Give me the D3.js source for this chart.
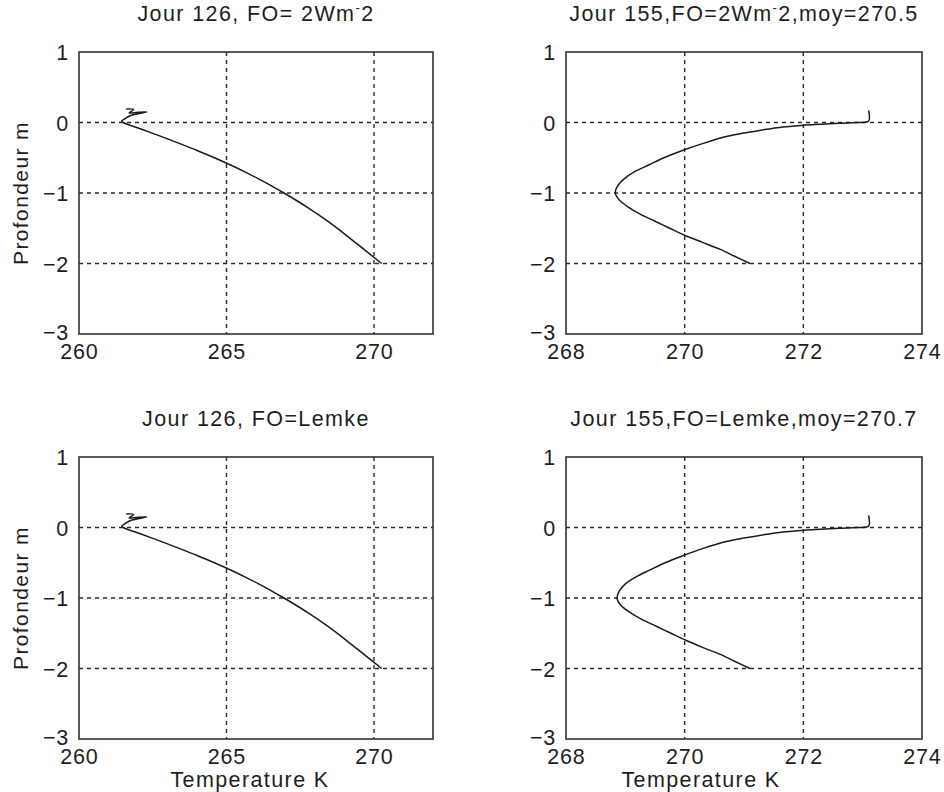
<!DOCTYPE html>
<html>
<head>
<meta charset="utf-8">
<script src="https://cdn.jsdelivr.net/npm/d3@7"></script>
<style>
  html, body { margin: 0; padding: 0; background: #fff; }
  svg { display: block; }
  text { font-family: "Liberation Sans", Arial, sans-serif; fill: #1e1e1e; }
</style>
</head>
<body>
<svg id="chart" width="944" height="792"></svg>
<script>
// ---------- data ----------
const titles = [
  ["Jour 126, FO= 2Wm", "-", "2", ""],
  ["Jour 155,FO=2Wm", "-", "2", ",moy=270.5"],
  ["Jour 126, FO=Lemke", "", "", ""],
  ["Jour 155,FO=Lemke,moy=270.7", "", "", ""]
];
const xTicksLeft = [260, 265, 270];
const xTicksRight = [268, 270, 272, 274];
const yTicks = [1, 0, -1, -2, -3];
const xDomainLeft = [260, 272];
const xDomainRight = [268, 274];
const yDomain = [-3, 1];

// Jour 126 profiles (depth m, temperature K)
const depthLeft = [0.19, 0.185, 0.135, 0.145, 0.15, 0.10, 0.05, 0.02, 0.0,
  -0.1, -0.2, -0.3, -0.4, -0.5, -0.6, -0.7, -0.8, -0.9, -1.0,
  -1.2, -1.4, -1.6, -1.8, -2.0];
const tempLeftTop = [261.6, 261.85, 261.7, 262.0, 262.3, 261.75, 261.55, 261.45, 261.5,
  262.15, 262.8, 263.42, 264.02, 264.59, 265.12, 265.62, 266.09, 266.53, 266.95,
  267.73, 268.43, 269.06, 269.66, 270.26];
const tempLeftBottom = [261.6, 261.85, 261.7, 262.0, 262.3, 261.75, 261.55, 261.45, 261.5,
  262.15, 262.8, 263.42, 264.02, 264.59, 265.12, 265.62, 266.09, 266.53, 266.95,
  267.73, 268.43, 269.06, 269.66, 270.26];

// Jour 155 profiles
const depthRight = [0.17, 0.02, 0.0, -0.01, -0.03, -0.05, -0.07, -0.1, -0.15, -0.2, -0.3, -0.4,
  -0.5, -0.6, -0.7, -0.8, -0.9, -1.0, -1.1, -1.2, -1.3, -1.4,
  -1.5, -1.6, -1.7, -1.8, -1.9, -2.0];
const tempRightTop = [273.1, 273.1, 272.9, 272.6, 272.2, 271.85, 271.6, 271.35, 271.0, 270.7, 270.3, 269.95,
  269.65, 269.4, 269.15, 268.98, 268.87, 268.83, 268.9, 269.05, 269.25, 269.5,
  269.75, 270.0, 270.3, 270.6, 270.85, 271.1];
const tempRightBottom = [273.1, 273.1, 272.9, 272.6, 272.2, 271.85, 271.6, 271.35, 271.0, 270.7, 270.3, 269.97,
  269.67, 269.42, 269.18, 269.0, 268.9, 268.86, 268.92, 269.07, 269.27, 269.52,
  269.77, 270.02, 270.3, 270.6, 270.85, 271.1];

const xLabel = "Temperature K";
const yLabel = "Profondeur m";

// ---------- layout ----------
const svg = d3.select("#chart");
const panels = [
  { left: 79, right: 433, top: 52, bottom: 334, xd: xDomainLeft, xt: xTicksLeft, depth: depthLeft, temp: tempLeftTop, title: titles[0], yl: true, xl: false, xlOff: -6 },
  { left: 566, right: 922, top: 52, bottom: 334, xd: xDomainRight, xt: xTicksRight, depth: depthRight, temp: tempRightTop, title: titles[1], yl: false, xl: false, xlOff: -43 },
  { left: 79, right: 433, top: 457, bottom: 739, xd: xDomainLeft, xt: xTicksLeft, depth: depthLeft, temp: tempLeftBottom, title: titles[2], yl: true, xl: true, xlOff: -6 },
  { left: 566, right: 922, top: 457, bottom: 739, xd: xDomainRight, xt: xTicksRight, depth: depthRight, temp: tempRightBottom, title: titles[3], yl: false, xl: true, xlOff: -43 }
];

const ink = "#1e1e1e";

panels.forEach(p => {
  const x = d3.scaleLinear().domain(p.xd).range([p.left, p.right]);
  const y = d3.scaleLinear().domain(yDomain).range([p.bottom, p.top]);
  const g = svg.append("g");

  // grid (dashed)
  g.append("g").selectAll("line")
    .data(p.xt.filter(v => v > p.xd[0] && v < p.xd[1]))
    .join("line")
    .attr("x1", d => x(d)).attr("x2", d => x(d))
    .attr("y1", p.top).attr("y2", p.bottom)
    .attr("stroke", "#2a2a2a").attr("stroke-width", 1.4)
    .attr("stroke-dasharray", "4,4");
  g.append("g").selectAll("line")
    .data(yTicks.filter(v => v > yDomain[0] && v < yDomain[1]))
    .join("line")
    .attr("x1", p.left).attr("x2", p.right)
    .attr("y1", d => y(d)).attr("y2", d => y(d))
    .attr("stroke", "#2a2a2a").attr("stroke-width", 1.4)
    .attr("stroke-dasharray", "4,4");

  // axes
  const xa = g.append("g").attr("transform", `translate(0,${p.bottom})`)
    .call(d3.axisBottom(x).tickValues(p.xt).tickSize(0).tickPadding(6).tickFormat(d3.format("d")));
  const ya = g.append("g").attr("transform", `translate(${p.left},0)`)
    .call(d3.axisLeft(y).tickValues(yTicks).tickSize(0).tickPadding(10).tickFormat(d3.format("d")));
  [xa, ya].forEach(a => {
    a.select(".domain").remove();
    a.selectAll("text")
      .attr("font-size", 21.5)
      .attr("letter-spacing", 0.8)
      .attr("fill", ink)
      .style("font-family", '"Liberation Sans", Arial, sans-serif');
  });
  xa.selectAll("text").attr("dy", "0.9em");
  ya.selectAll("text").attr("dy", d => d === -3 ? "0.25em" : "0.36em");

  // frame
  g.append("rect")
    .attr("x", p.left).attr("y", p.top)
    .attr("width", p.right - p.left).attr("height", p.bottom - p.top)
    .attr("fill", "none").attr("stroke", "#333").attr("stroke-width", 1.6);

  // profile line
  const pts = p.depth.map((d, i) => [p.temp[i], d]);
  g.append("path")
    .datum(pts)
    .attr("d", d3.line().x(d => x(d[0])).y(d => y(d[1])).curve(d3.curveCatmullRom.alpha(0.5)))
    .attr("fill", "none").attr("stroke", "#1a1a1a").attr("stroke-width", 1.5)
    .attr("stroke-linejoin", "round");

  // title
  const t = g.append("text")
    .attr("x", (p.left + p.right) / 2)
    .attr("y", p.top - 31)
    .attr("text-anchor", "middle")
    .attr("font-size", 21.5)
    .attr("letter-spacing", 1.4);
  t.append("tspan").text(p.title[0]);
  if (p.title[1]) {
    t.append("tspan").attr("font-size", 13).attr("dy", -9).text(p.title[1]);
    t.append("tspan").attr("dy", 9).text(p.title[2]);
  }
  if (p.title[3]) t.append("tspan").text(p.title[3]);

  // axis labels
  if (p.yl) {
    g.append("text")
      .attr("transform", `translate(${p.left - 51},${(p.top + p.bottom) / 2}) rotate(-90)`)
      .attr("text-anchor", "middle")
      .attr("font-size", 21)
      .attr("letter-spacing", 1.4)
      .text(yLabel);
  }
  if (p.xl) {
    g.append("text")
      .attr("x", (p.left + p.right) / 2 + p.xlOff)
      .attr("y", p.bottom + 48)
      .attr("text-anchor", "middle")
      .attr("font-size", 21.5)
      .attr("letter-spacing", 1.4)
      .text(xLabel);
  }
});
</script>
</body>
</html>
